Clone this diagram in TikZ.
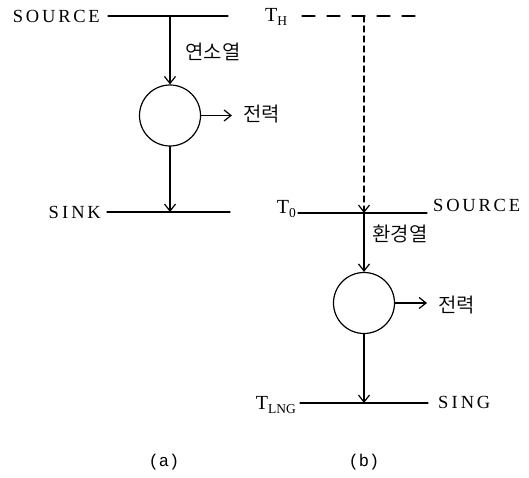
\documentclass[tikz,border=0pt]{standalone}
\usepackage{fontspec}
\newfontfamily\krfont{Noto Sans CJK KR}[UprightFont={* DemiLight}]
\newfontfamily\latfont{Liberation Serif}[LetterSpace=15]
\newfontfamily\tmpfont{Liberation Serif}
\newfontfamily\capfont{Liberation Mono}
\newcommand{\lowsub}[1]{\raisebox{-4pt}{\fontsize{13.5}{14}\selectfont #1}}
\usetikzlibrary{arrows.meta}

\begin{document}
\begin{tikzpicture}[x=1pt,y=-1pt,>={Straight Barb[length=7pt,width=11pt]},line cap=round,line join=round,
  level/.style={line width=1.3pt},
  flow/.style={->,line width=1.2pt},
  engine/.style={circle,draw,line width=1.2pt,minimum size=61pt,inner sep=0pt},
  lbl/.style={inner sep=0pt,font=\latfont\fontsize{18.5}{20}\selectfont},
  temp/.style={inner sep=0pt,font=\tmpfont\fontsize{20}{22}\selectfont},
  kor/.style={inner sep=0pt,font=\krfont\fontsize{20}{22}\selectfont},
  sublabel/.style={inner sep=0pt,font=\capfont\fontsize{17}{19}\selectfont}]
\useasboundingbox (0,0) rectangle (529,478);
% (a)
\coordinate (srcAl) at (108,16);
\coordinate (srcAr) at (228,16);
\coordinate (srcA) at (170,16);
\coordinate (snkAl) at (107,212);
\coordinate (snkAr) at (230,212);
\coordinate (snkA) at (170,212);
\node[engine] (engA) at (170,115.5) {};
\coordinate (powA) at (232,115.5);
\draw[level] (srcAl) -- (srcAr);
\draw[level] (snkAl) -- (snkAr);
\draw[flow] (srcA) -- (engA.north);
\draw[flow] (engA.south) -- (snkA);
\draw[flow] (engA.east) -- (powA);
\node[lbl,anchor=east] (srcAtxt) at (100,16) {SOURCE};
\node[lbl,anchor=east] (snkAtxt) at (101,212) {S\,I\,NK};
\node[kor,anchor=west] (heatA) at (185,52) {연소열};
\node[kor,anchor=west] (workA) at (243,114) {전력};
\node[sublabel] (capA) at (164,462) {(a)};
% (b)
\coordinate (hotBl) at (302,16);
\coordinate (hotBr) at (417,16);
\coordinate (hotB) at (364,16);
\coordinate (srcBl) at (298,213);
\coordinate (srcBr) at (427,213);
\coordinate (srcB) at (364,213);
\coordinate (snkBl) at (300,403);
\coordinate (snkBr) at (428,403);
\coordinate (snkB) at (364,403);
\node[engine] (engB) at (364,303) {};
\coordinate (powB) at (427,303);
\draw[level,dash pattern=on 13pt off 12pt] (hotBl) -- (hotBr);
\draw[flow,dash pattern=on 6pt off 4pt] (hotB) -- (srcB);
\draw[level] (srcBl) -- (srcBr);
\draw[level] (snkBl) -- (snkBr);
\draw[flow] (srcB) -- (engB.north);
\draw[flow] (engB.south) -- (snkB);
\draw[flow] (engB.east) -- (powB);
\node[temp,anchor=base west] (thB) at (265,22) {T\lowsub{H}};
\node[temp,anchor=base east] (toB) at (296,214) {T\lowsub{0}};
\node[temp,anchor=base east] (tlB) at (296,409) {T\lowsub{LNG}};
\node[lbl,anchor=west] (srcBtxt) at (433,205) {SOURCE};
\node[lbl,anchor=west] (snkBtxt) at (438,402) {S\,I\,NG};
\node[kor,anchor=west] (heatB) at (372,234) {환경열};
\node[kor,anchor=west] (workB) at (438,305) {전력};
\node[sublabel] (capB) at (364,462) {(b)};
\end{tikzpicture}
\end{document}
